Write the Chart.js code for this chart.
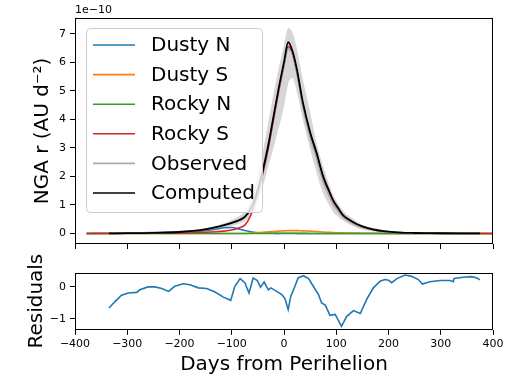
<!DOCTYPE html>
<html>
<head>
<meta charset="utf-8">
<script src="https://cdn.jsdelivr.net/npm/chart.js@4.4.1/dist/chart.umd.min.js"></script>
<style>
  html, body { margin: 0; padding: 0; background: #fff; overflow: hidden; }
  #wrap { position: relative; width: 526px; height: 375px; }
  .panel { position: absolute; left: 0; }
</style>
</head>
<body>
<div id="wrap">
  <canvas id="ngaChart" class="panel" style="top:0" width="526" height="250"></canvas>
  <canvas id="resChart" class="panel" style="top:250px" width="526" height="125"></canvas>
</div>
<script>
// Days from perihelion at which the model curves are sampled
const days = [-378, -335, -300, -250, -200, -160, -130, -115, -100, -85, -75, -64, -53, -40, -30, -20, -10, 0, 8, 16, 25, 36, 50, 62, 75, 85, 94, 104, 113, 125, 139, 150, 170, 190, 222, 250, 280, 340, 375, 420];

// Non-gravitational radial acceleration, units of 1e-10 AU d^-2
const dustyN = [0, 0.005, 0.01, 0.03, 0.06, 0.09, 0.15, 0.2, 0.21, 0.15, 0.1, 0.06, 0.03, 0.015, 0.01, 0.005, 0, 0, 0, 0, 0, 0, 0, 0, 0, 0, 0, 0, 0, 0, 0, 0, 0, 0, 0, 0, 0, 0, 0, 0];
const dustyS = [0, 0, 0, 0, 0, 0, 0, 0, 0, 0, 0, 0.01, 0.02, 0.04, 0.06, 0.07, 0.08, 0.09, 0.1, 0.1, 0.1, 0.09, 0.08, 0.07, 0.05, 0.04, 0.03, 0.025, 0.02, 0.015, 0.01, 0.008, 0.005, 0.003, 0, 0, 0, 0, 0, 0];
const rockyN = [0, 0, 0, 0, 0, 0, 0, 0, 0, 0, 0, 0, 0, 0, 0, 0.003, 0.004, 0.005, 0.005, 0.005, 0.004, 0.003, 0, 0, 0, 0, 0, 0, 0, 0, 0, 0, 0, 0, 0, 0, 0, 0, 0, 0];
const rockyS = [0, 0, 0.005, 0.01, 0.02, 0.04, 0.06, 0.08, 0.12, 0.2, 0.29, 0.62, 1.22, 2.15, 3.0, 4.0, 5.0, 5.9, 6.55, 6.3, 5.62, 4.52, 3.48, 2.8, 1.95, 1.5, 1.13, 0.84, 0.6, 0.45, 0.3, 0.22, 0.13, 0.07, 0.03, 0.015, 0.01, 0, 0, 0];
const observed = [null, 0, 0.01, 0.02, 0.05, 0.11, 0.2, 0.27, 0.36, 0.48, 0.6, 0.9, 1.4, 2.3, 3.15, 4.1, 5.05, 5.9, 6.45, 6.3, 5.6, 4.45, 3.35, 2.65, 1.8, 1.38, 1.02, 0.77, 0.56, 0.42, 0.29, 0.21, 0.14, 0.07, 0.03, 0.01, 0.01, 0, 0, null];
const observedHigh = [null, 0.02, 0.03, 0.05, 0.09, 0.16, 0.27, 0.36, 0.47, 0.62, 0.78, 1.15, 1.8, 2.9, 3.9, 4.9, 5.8, 6.6, 7.2, 7.05, 6.45, 5.4, 4.25, 3.2, 2.35, 1.8, 1.35, 1.05, 0.8, 0.6, 0.42, 0.3, 0.2, 0.12, 0.06, 0.04, 0.03, 0.01, 0.01, null];
const observedLow = [null, 0, 0, 0, 0.02, 0.06, 0.13, 0.19, 0.26, 0.35, 0.43, 0.62, 1.0, 1.7, 2.35, 3.0, 3.7, 4.45, 5.25, 5.45, 4.95, 4.0, 2.95, 2.15, 1.4, 1.05, 0.75, 0.58, 0.45, 0.32, 0.2, 0.14, 0.08, 0.04, 0.01, 0, 0, 0, 0, null];
const computed = [null, 0, 0.01, 0.02, 0.05, 0.12, 0.22, 0.29, 0.37, 0.47, 0.58, 0.85, 1.35, 2.25, 3.1, 4.1, 5.1, 6.0, 6.7, 6.4, 5.72, 4.6, 3.55, 2.85, 2.0, 1.55, 1.17, 0.88, 0.64, 0.48, 0.33, 0.25, 0.14, 0.08, 0.03, 0.015, 0.01, 0, 0, null];

// Residuals of the fit
const resDays = [-335, -323, -311, -298, -282, -276, -260, -247, -234, -221, -209, -193, -180, -164, -148, -132, -116, -102, -94, -84, -75, -67, -59, -51, -45, -38, -30, -25, -14, -4, 2, 8, 13, 21, 27, 37, 47, 56, 66, 72, 79, 88, 98, 110, 120, 133, 146, 158, 171, 184, 193, 200, 206, 216, 232, 244, 257, 265, 279, 299, 318, 324, 325.5, 343, 359, 369, 375];
const resValues = [-0.66, -0.45, -0.26, -0.19, -0.17, -0.09, 0.0, 0.0, -0.05, -0.14, 0.02, 0.1, 0.07, -0.03, -0.05, -0.16, -0.32, -0.42, 0.02, 0.26, 0.13, -0.19, 0.28, 0.2, -0.01, 0.15, -0.09, -0.03, -0.14, -0.24, -0.37, -0.71, -0.29, 0.02, 0.28, 0.35, 0.26, 0.02, -0.24, -0.5, -0.57, -0.89, -0.86, -1.23, -0.92, -0.74, -0.83, -0.4, -0.03, 0.18, 0.23, 0.21, 0.13, 0.26, 0.37, 0.33, 0.23, 0.09, 0.16, 0.2, 0.2, 0.16, 0.26, 0.3, 0.32, 0.28, 0.22];

// Tick positions
const xTicks = [-400, -300, -200, -100, 0, 100, 200, 300, 400];
const ngaTicks = [0, 1, 2, 3, 4, 5, 6, 7];
const resTicks = [-1, 0];

const FONT = 'DejaVu Sans';
Chart.defaults.font.family = FONT;
Chart.defaults.color = '#000';

const pts = (xs, ys) => xs.map((x, i) => ({ x, y: ys[i] }));
const setTicks = list => scale => { scale.ticks = list.map(v => ({ value: v })); };
const minus = v => String(v).replace('-', '\u2212');
const tickGrid = { display: true, drawOnChartArea: false, drawTicks: true, tickLength: 5, color: '#000', lineWidth: 1 };

// Black frame around the plotting area
const frame = {
  id: 'frame',
  afterDraw(chart) {
    const { ctx, chartArea: a } = chart;
    ctx.save();
    ctx.strokeStyle = '#000';
    ctx.lineWidth = 1;
    ctx.strokeRect(Math.round(a.left) + 0.5, Math.round(a.top) + 0.5, Math.round(a.right - a.left) - 1, Math.round(a.bottom - a.top) - 1);
    ctx.restore();
  }
};

// Boxed legend in the upper left plus the exponent label above the axis
const legendBox = {
  id: 'legendBox',
  afterDraw(chart) {
    const { ctx, chartArea: a } = chart;
    ctx.save();
    ctx.font = '11px ' + FONT;
    ctx.fillStyle = '#000';
    ctx.textAlign = 'left';
    ctx.textBaseline = 'middle';
    ctx.fillText('1e\u221210', a.left, 10);

    const entries = chart.data.datasets.filter(d => d.legendRank !== undefined).sort((p, q) => p.legendRank - q.legendRank);
    const x = 86, y = 28, w = 176, h = 184, r = 4;
    ctx.beginPath();
    ctx.roundRect(x + 0.5, y + 0.5, w, h, r);
    ctx.fillStyle = 'rgba(255,255,255,0.8)';
    ctx.fill();
    ctx.strokeStyle = '#cccccc';
    ctx.lineWidth = 1;
    ctx.stroke();
    ctx.font = '20px ' + FONT;
    entries.forEach((d, i) => {
      const cy = 45 + i * 29.6;
      ctx.beginPath();
      ctx.moveTo(93, cy);
      ctx.lineTo(135, cy);
      ctx.strokeStyle = d.borderColor;
      ctx.lineWidth = 1.6;
      ctx.stroke();
      ctx.fillStyle = '#000';
      ctx.fillText(d.label, 151, cy + 1);
    });
    ctx.restore();
  }
};

const line = (label, data, color, rank, width) => ({
  label, data: pts(days, data), borderColor: color, backgroundColor: color,
  borderWidth: width || 1.6, pointRadius: 0, cubicInterpolationMode: 'monotone', fill: false, legendRank: rank
});

new Chart(document.getElementById('ngaChart'), {
  type: 'line',
  data: {
    datasets: [
      line('Computed', computed, '#000000', 5, 1.8),
      line('Observed', observed, '#aaaaaa', 4),
      line('Rocky S', rockyS, '#d62728', 3),
      line('Rocky N', rockyN, '#2ca02c', 2),
      line('Dusty S', dustyS, '#ff7f0e', 1),
      line('Dusty N', dustyN, '#1f77b4', 0),
      { label: 'band high', data: pts(days, observedHigh), borderWidth: 0, pointRadius: 0, cubicInterpolationMode: 'monotone',
        backgroundColor: 'rgba(200,200,200,0.75)', fill: '+1' },
      { label: 'band low', data: pts(days, observedLow), borderWidth: 0, pointRadius: 0, cubicInterpolationMode: 'monotone', fill: false }
    ]
  },
  options: {
    responsive: false,
    animation: false,
    events: [],
    layout: { padding: { left: 0, right: 33, top: 18, bottom: 0 } },
    plugins: { legend: { display: false }, tooltip: { enabled: false } },
    scales: {
      x: {
        type: 'linear', min: -400, max: 400,
        afterBuildTicks: setTicks(xTicks),
        ticks: { display: false },
        grid: tickGrid,
        border: { display: false },
        afterFit: s => { s.height = 6; s.paddingLeft = 0; s.paddingRight = 0; }
      },
      y: {
        type: 'linear', min: -0.37, max: 7.55,
        afterBuildTicks: setTicks(ngaTicks),
        ticks: { font: { size: 11 }, color: '#000', padding: 4 },
        grid: tickGrid,
        border: { display: false },
        title: { display: true, text: 'NGA r (AU d\u207B\u00B2)', font: { size: 20 }, color: '#000', padding: { top: 31, bottom: 0 } },
        afterFit: s => { s.width = 75; s.paddingTop = 0; s.paddingBottom = 0; }
      }
    }
  },
  plugins: [frame, legendBox]
});

new Chart(document.getElementById('resChart'), {
  type: 'line',
  data: {
    datasets: [{
      label: 'Residuals', data: pts(resDays, resValues), borderColor: '#1f77b4',
      borderWidth: 1.6, pointRadius: 0, tension: 0, fill: false
    }]
  },
  options: {
    responsive: false,
    animation: false,
    events: [],
    layout: { padding: { left: 0, right: 33, top: 22.5, bottom: 0 } },
    plugins: { legend: { display: false }, tooltip: { enabled: false } },
    scales: {
      x: {
        type: 'linear', min: -400, max: 400,
        afterBuildTicks: setTicks(xTicks),
        ticks: { font: { size: 11 }, color: '#000', padding: 3, maxRotation: 0, callback: minus },
        grid: tickGrid,
        border: { display: false },
        title: { display: true, text: 'Days from Perihelion', font: { size: 20 }, color: '#000', padding: { top: 0, bottom: -2 } },
        afterFit: s => { s.height = 45.2; s.paddingLeft = 0; s.paddingRight = 0; }
      },
      y: {
        type: 'linear', min: -1.34, max: 0.45,
        afterBuildTicks: setTicks(resTicks),
        ticks: { font: { size: 11 }, color: '#000', padding: 4, callback: minus },
        grid: tickGrid,
        border: { display: false },
        title: { display: true, text: 'Residuals', font: { size: 20 }, color: '#000', padding: { top: 25, bottom: 0 } },
        afterFit: s => { s.width = 75; s.paddingTop = 0; s.paddingBottom = 0; }
      }
    }
  },
  plugins: [frame]
});
</script>
</body>
</html>
